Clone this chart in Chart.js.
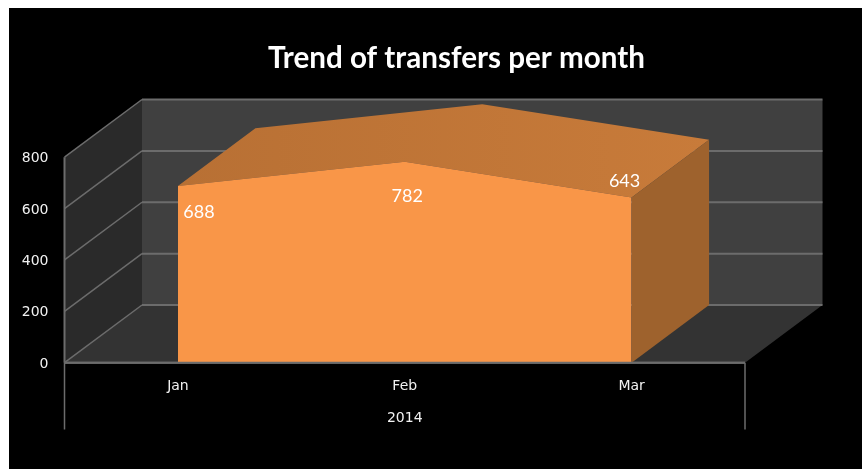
<!DOCTYPE html>
<html>
<head>
<meta charset="utf-8">
<script src="https://cdn.jsdelivr.net/npm/chart.js@4/dist/chart.umd.min.js"></script>
<style>
html,body{margin:0;padding:0;background:#fff;overflow:hidden}
#wrap{position:absolute;left:0;top:0;width:862px;height:469px}
canvas{display:block}
</style>
</head>
<body>
<div id="wrap"><canvas id="c" width="862" height="469"></canvas></div>
<script>
const months = ["Jan", "Feb", "Mar"];
const transfers = [688, 782, 643];
const yearLabel = "2014";
const chartTitle = "Trend of transfers per month";
const yMax = 800;
const yStep = 200;

const DEPTH_X = 77.5, DEPTH_Y = 57.7;
const labelOffsets = [[21, 26], [2.5, 34], [-7, -16]];
const C = {
  frame: "#000000", back: "#404040", side: "#2a2a2a", floor: "#333333",
  grid: "#6c6c6c", sideFace: "#9e622d", top1: "#b87034", top2: "#c87b3a",
  front: "#f99648", text: "#f2f2f2"
};

function poly(ctx, pts, fill) {
  ctx.beginPath();
  pts.forEach((p, i) => i ? ctx.lineTo(p[0], p[1]) : ctx.moveTo(p[0], p[1]));
  ctx.closePath();
  ctx.fillStyle = fill;
  ctx.fill();
}
function seg(ctx, a, b, w) {
  ctx.beginPath();
  ctx.moveTo(a[0], a[1]);
  ctx.lineTo(b[0], b[1]);
  ctx.lineWidth = w;
  ctx.strokeStyle = C.grid;
  ctx.stroke();
}

const box3d = {
  id: "box3d",
  afterLayout(chart) {
    chart.titleBlock.left += 84;
    chart.titleBlock.right += 84;
  },
  beforeDraw(chart) {
    const ctx = chart.ctx;
    ctx.save();
    ctx.fillStyle = C.frame;
    ctx.fillRect(9, 8, chart.width - 9, chart.height - 8);
    ctx.restore();
    // nudge the y tick labels so they sit centred on their gridlines
    const s = chart.scales.y;
    if (s._computeLabelItems) {
      const items = s._computeLabelItems(chart.chartArea);
      items.forEach(it => { if (it.options && it.options.translation) it.options.translation[1] += 1.5; });
      s._labelItems = items;
    }
  },
  beforeDatasetsDraw(chart) {
    const ctx = chart.ctx, x = chart.scales.x, y = chart.scales.y;
    const L = x.left, R = x.right, y0 = y.getPixelForValue(0), yT = y.getPixelForValue(yMax);
    const dx = DEPTH_X, dy = DEPTH_Y;
    ctx.save();
    // walls and floor
    poly(ctx, [[L + dx, yT - dy], [R + dx, yT - dy], [R + dx, y0 - dy], [L + dx, y0 - dy]], C.back);
    poly(ctx, [[L, yT], [L + dx, yT - dy], [L + dx, y0 - dy], [L, y0]], C.side);
    poly(ctx, [[L, y0], [L + dx, y0 - dy], [R + dx, y0 - dy], [R, y0]], C.floor);
    // gridlines
    for (let v = 0; v <= yMax; v += yStep) {
      const p = y.getPixelForValue(v);
      seg(ctx, [L, p], [L + dx, p - dy], 1.5);
      seg(ctx, [L + dx, p - dy], [R + dx, p - dy], 2);
    }
    // axis frame
    seg(ctx, [L, yT], [L, y0], 2);
    seg(ctx, [L, y0], [L, 429.5], 1.5);
    seg(ctx, [R, y0], [R, 429.5], 1.5);
    seg(ctx, [L, y0], [R, y0], 2);
    // extruded faces of the area
    const pts = transfers.map((v, i) => [x.getPixelForValue(i), y.getPixelForValue(v)]);
    const last = pts[pts.length - 1];
    const g = ctx.createLinearGradient(pts[0][0], 0, last[0] + dx, 0);
    g.addColorStop(0, C.top1);
    g.addColorStop(1, C.top2);
    const top = pts.concat(pts.slice().reverse().map(p => [p[0] + dx, p[1] - dy]));
    poly(ctx, top, g);
    poly(ctx, [last, [last[0] + dx, last[1] - dy], [last[0] + dx, y0 - dy], [last[0], y0]], C.sideFace);
    ctx.restore();
  },
  afterDatasetsDraw(chart) {
    const ctx = chart.ctx, x = chart.scales.x, y = chart.scales.y;
    const y0 = y.getPixelForValue(0);
    ctx.save();
    seg(ctx, [x.left, y0], [x.right, y0], 2);
    ctx.fillStyle = "#ffffff";
    ctx.font = "18px Lato, Carlito, sans-serif";
    ctx.textAlign = "center";
    ctx.textBaseline = "middle";
    transfers.forEach((v, i) => {
      ctx.fillText(String(v),
        x.getPixelForValue(i) + labelOffsets[i][0],
        y.getPixelForValue(v) + labelOffsets[i][1]);
    });
    ctx.restore();
  }
};

new Chart(document.getElementById("c"), {
  type: "line",
  data: {
    labels: months,
    datasets: [{
      label: "Transfers",
      data: transfers,
      fill: "origin",
      backgroundColor: C.front,
      borderWidth: 0,
      borderColor: C.front,
      pointRadius: 0,
      tension: 0
    }]
  },
  options: {
    responsive: false,
    animation: false,
    layout: { padding: { left: 0, right: 117, top: 0, bottom: 0 } },
    plugins: {
      legend: { display: false },
      tooltip: { enabled: false },
      title: {
        display: true,
        text: chartTitle,
        color: "#ffffff",
        font: { family: "Lato, Carlito, sans-serif", size: 29.6, weight: "bold", lineHeight: 1.2 },
        padding: { top: 41, bottom: 80.7 }
      }
    },
    scales: {
      x: {
        type: "category",
        offset: true,
        grid: { display: false, drawTicks: false },
        border: { display: false },
        ticks: { color: C.text, font: { family: "DejaVu Sans", size: 14 }, padding: 15, maxRotation: 0 },
        title: {
          display: true,
          text: yearLabel,
          color: C.text,
          font: { family: "DejaVu Sans", size: 14 },
          padding: { top: 0, bottom: 42 }
        },
        afterFit(s) { s.height = 106.3; }
      },
      y: {
        min: 0,
        max: yMax,
        grid: { display: false, drawTicks: false },
        border: { display: false },
        ticks: { stepSize: yStep, color: C.text, font: { family: "DejaVu Sans", size: 14 }, padding: 16 },
        afterFit(s) { s.width = 64.5; }
      }
    }
  },
  plugins: [box3d]
});
</script>
</body>
</html>
